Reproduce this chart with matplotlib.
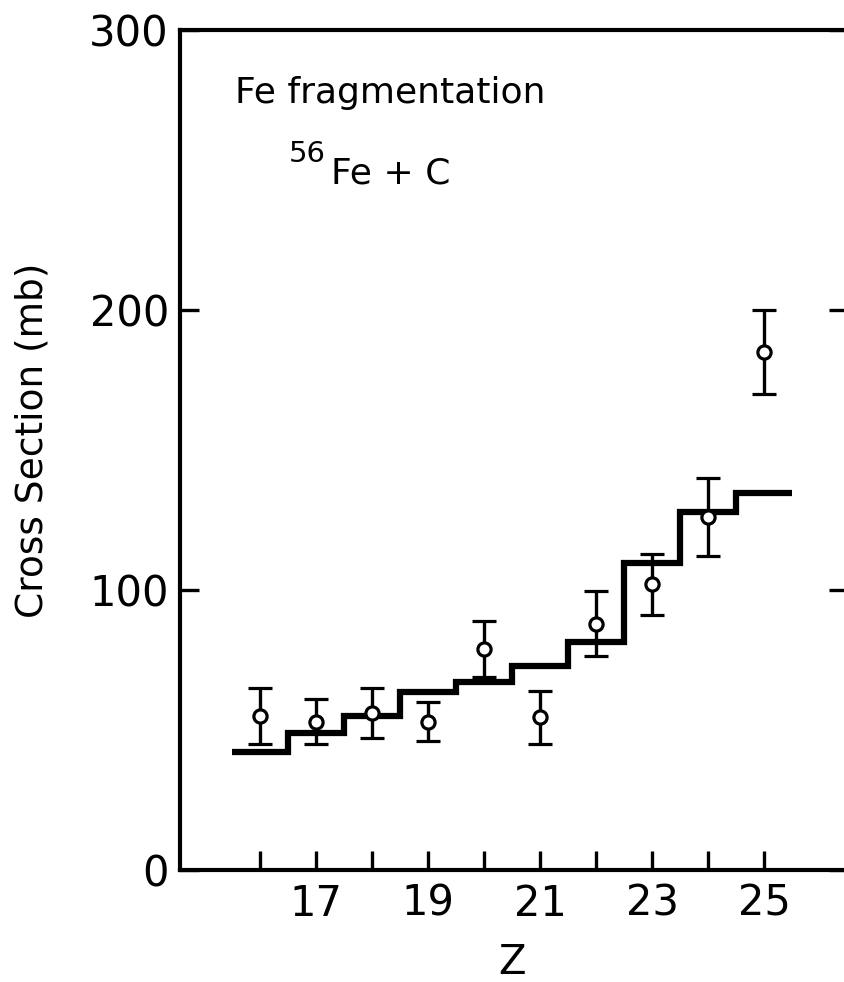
import numpy as np
import matplotlib
matplotlib.use("Agg")
from matplotlib import pyplot as plt

# measured cross sections (mb) vs fragment charge Z
z = [16, 17, 18, 19, 20, 21, 22, 23, 24, 25]
sigma = [55, 53, 56, 53, 79, 54.5, 88, 102, 126, 185]
sigma_err = [10, 8, 9, 7, 10, 9.5, 11.5, 11, 14, 15]

# calculated values, drawn as a histogram
calc_edges = [15.5, 16.5, 17.5, 18.5, 19.5, 20.5, 21.5, 22.5, 23.5, 24.5, 25.5]
calc = [42, 49, 55, 63.5, 67, 73, 81.5, 109.5, 128, 134.5]

xticks = [16, 17, 18, 19, 20, 21, 22, 23, 24, 25]
xticklabels = ['', '17', '', '19', '', '21', '', '23', '', '25']
yticks = [0, 100, 200, 300]

plt.rcParams['font.family'] = 'DejaVu Sans'

W, H = 844, 982
dpi = 100
fig = plt.figure(figsize=(W / dpi, H / dpi), dpi=dpi)

# axes: right spine sits just outside the picture
ax = fig.add_axes([180 / W, 112 / H, 668 / W, 840 / H])

ax.stairs(calc, calc_edges, baseline=None, color='black', lw=4.5)
ax.errorbar(z, sigma, yerr=sigma_err, fmt='o', color='black', ms=9.5,
            mfc='white', mec='black', mew=2.3, elinewidth=2.4, capsize=8.5,
            capthick=2.6)

ax.set_xlim(14.57, 26.5)
ax.set_ylim(0, 300)
ax.set_xticks(xticks)
ax.set_xticklabels(xticklabels)
ax.set_yticks(yticks)

for s in ax.spines.values():
    s.set_linewidth(3)

ax.tick_params(axis='both', direction='in', length=14, width=2.4,
               labelsize=30, right=True, top=False)
ax.tick_params(axis='x', pad=9)
ax.tick_params(axis='y', pad=8)

fig.text(33 / W, 1 - 440 / H, 'Cross Section (mb)', rotation=90,
         ha='center', va='center', fontsize=27)
fig.text(512 / W, 1 - 963 / H, 'Z', ha='center', va='center', fontsize=29)

fig.text(235 / W, 1 - 103 / H, 'Fe fragmentation', va='baseline', fontsize=26)
# superscript mass number set as its own text
fig.text(289 / W, 1 - 162 / H, '56', va='baseline', fontsize=21)
fig.text(331 / W, 1 - 183 / H, 'Fe + C', va='baseline', fontsize=26)

fig.savefig('out.png', dpi=dpi)
